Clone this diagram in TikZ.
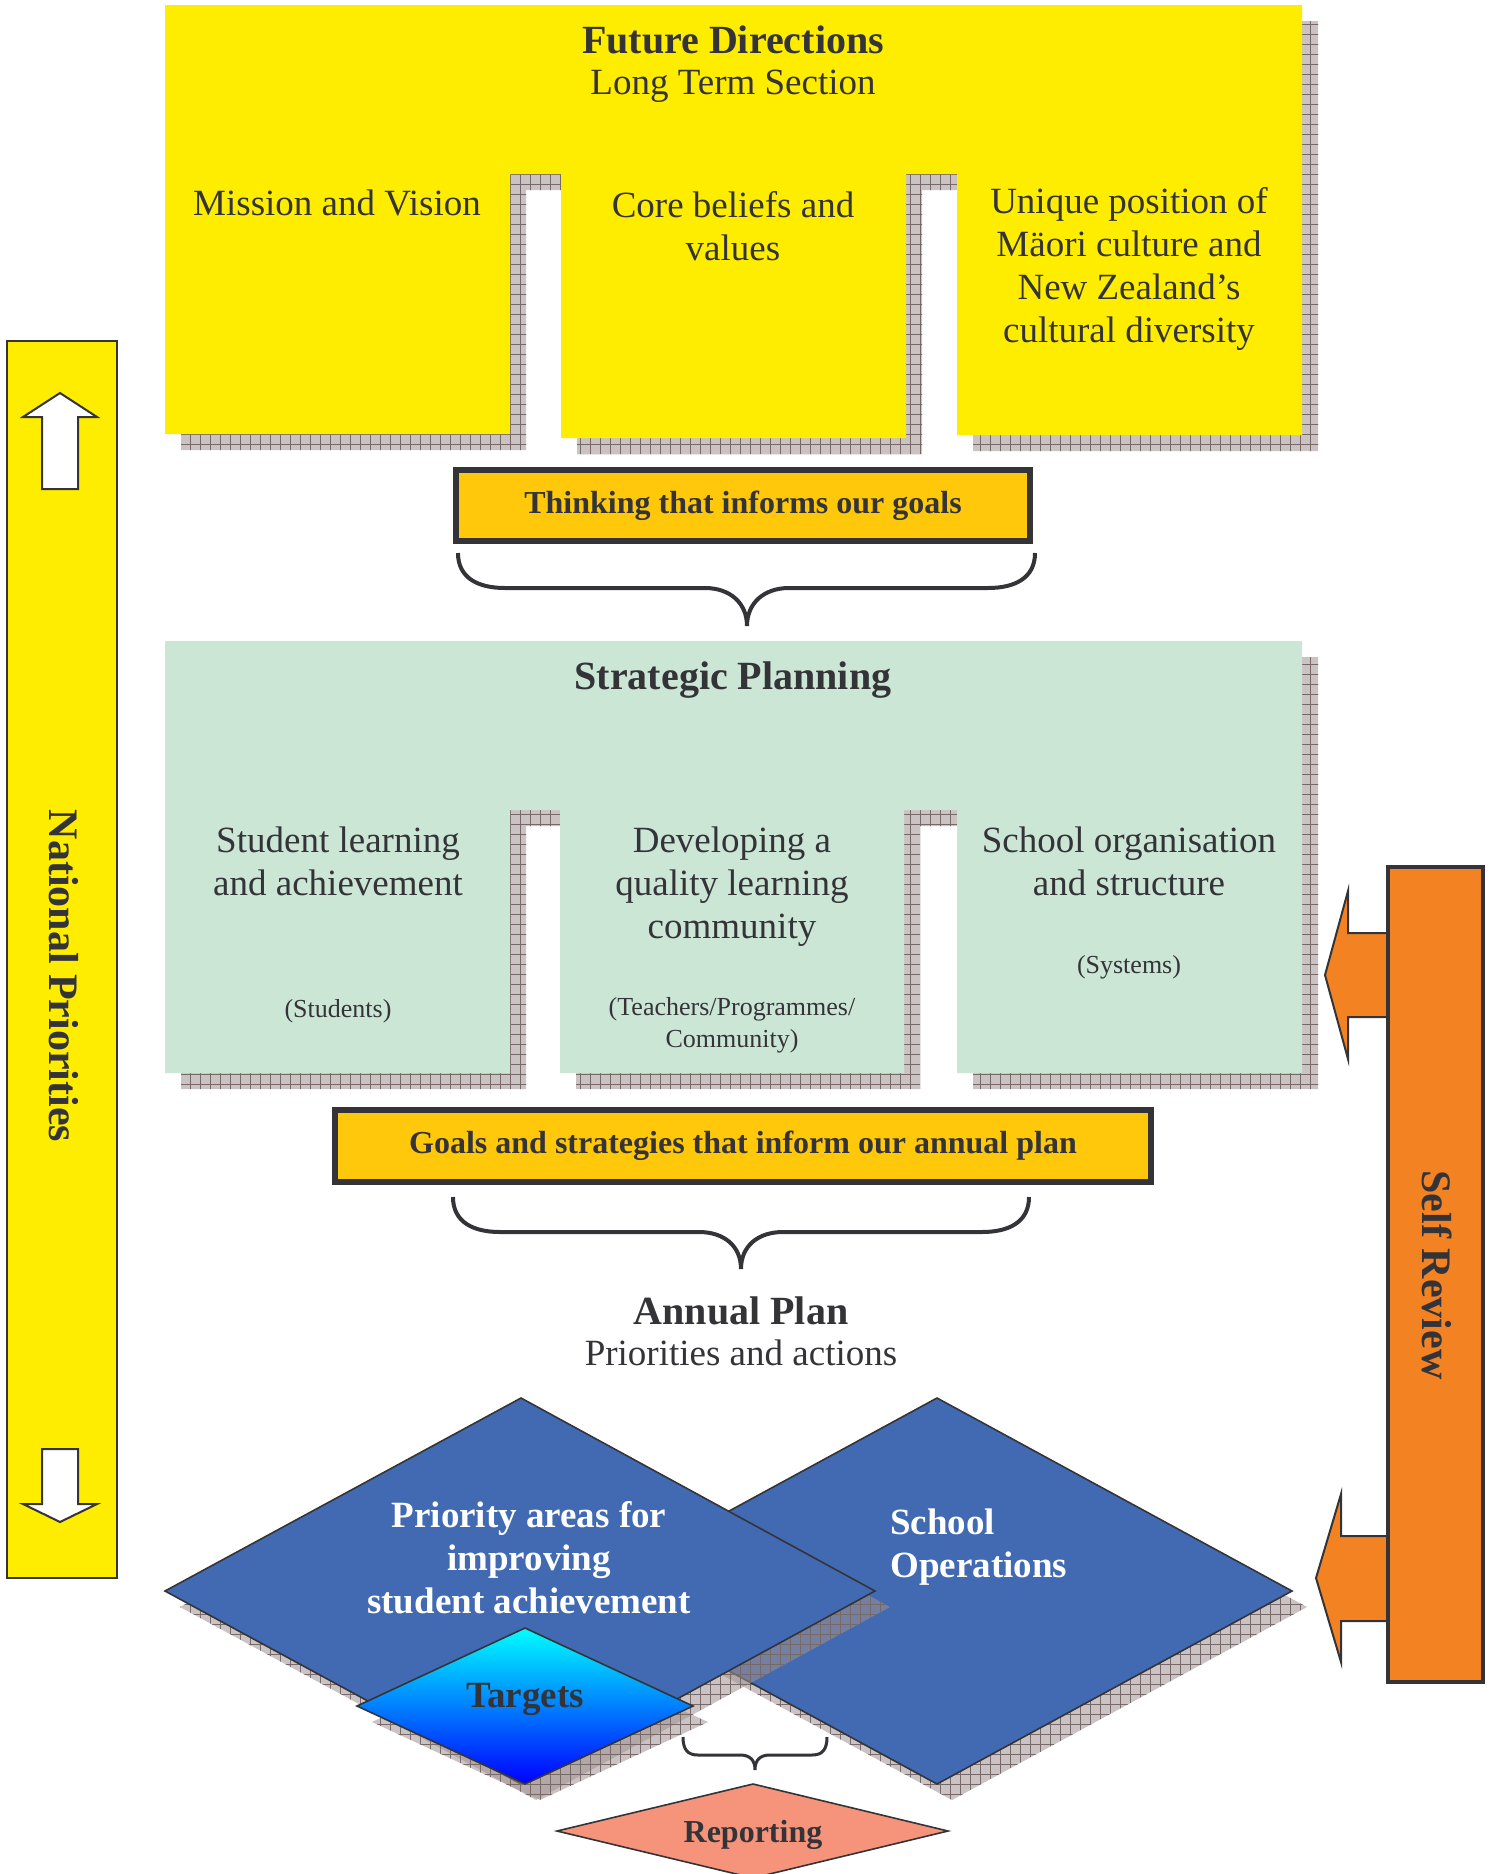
\documentclass[tikz,border=0pt]{standalone}
\usepackage{fontspec}
\setmainfont{Liberation Serif}
\usetikzlibrary{positioning, patterns.meta}

\definecolor{fdyellow}{RGB}{255,237,0}
\definecolor{spgreen}{RGB}{204,230,214}
\definecolor{goldbox}{RGB}{255,200,10}
\definecolor{srorange}{RGB}{243,130,34}
\definecolor{diablue}{RGB}{65,106,178}
\definecolor{repsalmon}{RGB}{245,148,122}
\definecolor{inkgrey}{RGB}{52,52,56}
\definecolor{shadowgrey}{RGB}{160,145,145}
\definecolor{gridgrey}{RGB}{120,105,105}

% outlines of the two notched panels
\newcommand{\fdoutline}{(165,5) -- (1302,5) -- (1302,435) -- (957,435) -- (957,174) -- (906,174) -- (906,438) -- (561,438) -- (561,174) -- (510,174) -- (510,434) -- (165,434) -- cycle}
\newcommand{\spoutline}{(165,641) -- (1302,641) -- (1302,1073) -- (957,1073) -- (957,810) -- (904,810) -- (904,1073) -- (560,1073) -- (560,810) -- (510,810) -- (510,1073) -- (165,1073) -- cycle}

\begin{document}
\begin{tikzpicture}[x=0.5pt, y=-0.5pt,
    shadowfill/.style={fill=shadowgrey, fill opacity=0.55,
        postaction={pattern={Hatch[distance=5pt, angle=0, line width=0.3pt]}, pattern color=gridgrey}},
    bodytext/.style={font=\fontsize{18.5}{21.5}\selectfont, text=inkgrey, align=center, inner sep=0pt, anchor=base},
    smalltext/.style={font=\fontsize{13}{16}\selectfont, text=inkgrey, align=center, inner sep=0pt, anchor=base},
    headtext/.style={font=\bfseries\fontsize{20}{24}\selectfont, text=inkgrey, inner sep=0pt, anchor=base},
    bandbox/.style={draw=inkgrey, line width=3pt, fill=goldbox, text=inkgrey, font=\bfseries\fontsize{16}{19}\selectfont},
    sidetext/.style={font=\bfseries\fontsize{21}{24}\selectfont, text=inkgrey, rotate=-90, inner sep=0pt},
    diatext/.style={font=\bfseries\fontsize{18.5}{21.5}\selectfont, text=white, align=center, inner sep=0pt, anchor=base},
    bracelines/.style={draw=inkgrey, line width=2pt},
    blockline/.style={draw=inkgrey, line width=1pt},
    diamondline/.style={draw=inkgrey, line width=0.8pt}]
\useasboundingbox (0,0) rectangle (1497,1874);

% Future Directions panel
\fill[shadowfill, shift={(16,16)}] \fdoutline;
\fill[fdyellow] \fdoutline;
\node[headtext] (fdtitle) at (733,53) {Future Directions};
\node[bodytext] (fdsub) at (733,94) {Long Term Section};
\node[bodytext] (mission) at (337,215) {Mission and Vision};
\node[bodytext] (beliefs) at (733,260) {Core beliefs and\\values};
\node[bodytext] (unique) at (1129,342) {Unique position of\\Mäori culture and\\New Zealand’s\\cultural diversity};

\node[bandbox, minimum width=287pt, minimum height=35.5pt] (thinking) at (743,505.5) {Thinking that informs our goals};
\draw[bracelines] (458,553) .. controls (458,578) and (478,588) .. (505,588) -- (705,588)
    .. controls (730,588) and (747,603) .. (747,626) .. controls (747,603) and (764,588) .. (789,588)
    -- (988,588) .. controls (1015,588) and (1035,578) .. (1035,553);

% Strategic Planning panel
\fill[shadowfill, shift={(16,16)}] \spoutline;
\fill[spgreen] \spoutline;
\node[headtext] (sptitle) at (733,689) {Strategic Planning};
\node[bodytext] (student) at (338,895) {Student learning\\and achievement};
\node[smalltext] (students) at (338,1017) {(Students)};
\node[bodytext] (developing) at (732,938) {Developing a\\quality learning\\community};
\node[smalltext] (teachers) at (732,1047) {(Teachers/Programmes/\\Community)};
\node[bodytext] (schoolorg) at (1129,895) {School organisation\\and structure};
\node[smalltext] (systems) at (1129,973) {(Systems)};

\node[bandbox, minimum width=408pt, minimum height=36pt] (goals) at (743,1146) {Goals and strategies that inform our annual plan};
\draw[bracelines] (453,1197) .. controls (453,1222) and (473,1232) .. (500,1232) -- (699,1232)
    .. controls (724,1232) and (741,1246) .. (741,1269) .. controls (741,1246) and (758,1232) .. (783,1232)
    -- (982,1232) .. controls (1009,1232) and (1029,1222) .. (1029,1197);

\node[headtext] (annual) at (741,1324) {Annual Plan};
\node[bodytext] (annualsub) at (741,1365) {Priorities and actions};

% diamonds
\fill[shadowfill, shift={(15,16)}] (937,1398) -- (1292,1591) -- (937,1784) -- (582,1591) -- cycle;
\draw[diamondline, fill=diablue] (937,1398) -- (1292,1591) -- (937,1784) -- (582,1591) -- cycle;
\fill[shadowfill, shift={(15,16)}] (521,1398) -- (875,1591) -- (521,1784) -- (165,1591) -- cycle;
\draw[diamondline, fill=diablue] (521,1398) -- (875,1591) -- (521,1784) -- (165,1591) -- cycle;
\fill[shadowfill, shift={(15,16)}] (525,1628) -- (693,1706) -- (525,1784) -- (357,1706) -- cycle;
\shade[diamondline, top color=cyan, bottom color=blue] (525,1628) -- (693,1706) -- (525,1784) -- (357,1706) -- cycle;
\node[diatext] (priority) at (529,1613) {Priority areas for\\improving\\student achievement};
\node[diatext, align=left, anchor=base west] (operations) at (890,1577) {School\\Operations};
\node[diatext, text=inkgrey] (targets) at (525,1707) {Targets};

\draw[bracelines, line width=1.5pt] (683,1737) .. controls (683,1750) and (688,1755) .. (698,1755) -- (740,1755)
    .. controls (750,1755) and (755,1760) .. (755,1770) .. controls (755,1760) and (760,1755) .. (770,1755)
    -- (812,1755) .. controls (822,1755) and (827,1750) .. (827,1737);
\draw[diamondline, fill=repsalmon] (753,1784) -- (948,1831) -- (753,1878) -- (557,1831) -- cycle;
\node[diatext, text=inkgrey, font=\bfseries\fontsize{16}{19}\selectfont] (reporting) at (753,1842) {Reporting};

% National Priorities bar
\draw[blockline, fill=fdyellow] (7,341) rectangle (117,1578);
\draw[blockline, fill=white] (60,393) -- (97,417) -- (78,417) -- (78,489) -- (42,489) -- (42,417) -- (23,417) -- cycle;
\draw[blockline, fill=white] (42,1449) -- (78,1449) -- (78,1504) -- (97,1504) -- (60,1522) -- (23,1504) -- (42,1504) -- cycle;
\node[sidetext] (natpri) at (64,976) {National Priorities};

% Self Review bar
\draw[blockline, fill=srorange] (1390,933) -- (1348,933) -- (1348,891) -- (1325,975) -- (1348,1059) -- (1348,1017) -- (1390,1017);
\draw[blockline, fill=srorange] (1390,1536) -- (1341,1536) -- (1341,1494) -- (1316,1578) -- (1341,1662) -- (1341,1621) -- (1390,1621);
\draw[blockline, line width=1.6pt, fill=srorange] (1388,867) rectangle (1483,1682);
\node[sidetext] (selfreview) at (1437,1275) {Self Review};
\end{tikzpicture}
\end{document}
